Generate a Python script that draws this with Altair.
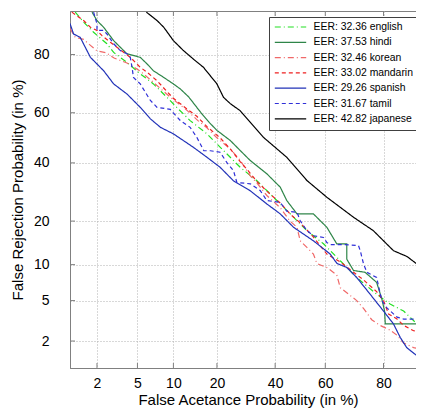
import altair as alt
import pandas as pd
from statistics import NormalDist

# ---- data (percent values) ----
series = ["EER: 32.36 english", "EER: 37.53 hindi", "EER: 32.46 korean",
          "EER: 33.02 mandarin", "EER: 29.26 spanish", "EER: 31.67 tamil",
          "EER: 42.82 japanese"]
colors = ["#22e022", "#2e8548", "#f06868", "#ee2020", "#2233b8", "#3030d8", "#000000"]
dashes = [[6, 3, 1, 3], [1, 0], [6, 3, 1, 3], [4, 3], [1, 0], [4, 3], [1, 0]]

english_far = [1.15, 1.43, 1.84, 2.54, 2.97, 4, 5.3, 6.9, 8.9, 10.6, 13.3, 17.3, 21.9, 27.2, 33.1,
               39.4, 46, 52.7, 59.3, 65.7, 71.6, 78, 81.8, 85.2, 88.1, 89.9]
english_frr = [89.8, 87.9, 85.7, 82.9, 80.6, 77.7, 74.1, 70.7, 65.9, 62.1, 56.9, 51.6, 44.9, 38.3, 33.2,
               27.4, 22.1, 17.4, 14.2, 10.7, 7.9, 5.7, 4.65, 4, 3, 2.6]

hindi_far = [1.77, 2, 2.35, 2.97, 3.45, 4, 5.3, 6.1, 6.9, 8.4, 10, 11.3, 13, 15.8, 18, 20, 24, 27.2,
             30.7, 36.8, 42, 44.6, 48.7, 55.3, 60.6, 64.4, 68.1, 68.1, 70.5, 74.4, 78, 79.5, 80.3,
             80.5, 89.9]
hindi_frr = [89.8, 88.2, 86.8, 83.7, 82, 80.2, 79.2, 77.2, 75.1, 72.9, 70.7, 68.9, 66, 60, 56, 53,
             48.9, 44.9, 40.9, 35.8, 30.9, 26.3, 22.1, 22.1, 18.3, 14.2, 14.2, 11, 9, 8.7, 7.2, 5.2, 4,
             3.0, 3.0]

korean_far = [1, 1.15, 1.43, 1.7, 2, 2.5, 3, 4, 5.3, 7, 8.9, 10, 12.6, 15, 17.3, 20, 24, 27.2, 30.7,
              33, 36.8, 42, 45.9, 48.7, 50, 52.7, 55.3, 56.7, 60.6, 64.4, 65.7, 71.6, 74, 76.5, 79,
              81.8, 83.6, 85.2, 87.4, 89.9]
korean_frr = [86.5, 84.5, 84, 82.5, 81, 80.5, 79, 77.5, 75, 71, 67, 65, 61, 57, 54, 50, 45.5, 41, 35,
              32.5, 28, 24, 20, 18.3, 14.9, 13.4, 12, 10.2, 9.5, 8.3, 6.5, 5, 4.2, 3.3, 2.9, 2.6,
              2.3, 1.9, 1.7, 1.6]

mandarin_far = [1.05, 1.43, 1.7, 2, 2.26, 2.75, 3.2, 4.3, 5.3, 6.1, 7.4, 8.9, 10, 12.6, 14.8, 17.3,
                20.9, 24, 27.2, 30.7, 33, 36.8, 42, 46, 50, 55, 60.6, 65.7, 70.5, 74, 78, 80, 81.4,
                83.6, 85.2, 87.4, 89.9]
mandarin_frr = [89.8, 88.2, 86.8, 86.1, 84.9, 83.3, 82, 79.2, 76.2, 74.6, 71.8, 68, 65.5, 61.5, 58.6,
                54.5, 50, 45.5, 40.5, 36, 33, 29.5, 25.5, 22, 19.5, 16, 12, 10.5, 8.7, 7.5, 6, 5,
                3.75, 3.35, 2.9, 2.56, 2.46]

spanish_far = [1, 1.1, 1.31, 1.7, 2.35, 2.97, 4, 5.3, 6.5, 7.9, 10, 14, 17.3, 20.9, 25, 30.7, 36.8,
               42, 47.3, 55.3, 61.9, 64.5, 68.1, 71.6, 76, 80, 82.7, 84.4, 85.9, 88.1, 89.9]
spanish_frr = [87.6, 85.3, 84.5, 79.2, 75.1, 70.7, 67.1, 62.1, 57.6, 54.2, 51.6, 46.2, 42.2, 38.3,
               33.2, 29.6, 25.2, 22.1, 18.3, 14.9, 12, 10.2, 9.5, 7.9, 5.7, 4, 3, 2.18, 1.7, 1.38, 1.2]

tamil_far = [1.84, 2, 2, 2.35, 2.54, 2.97, 3.45, 4, 4.3, 4.46, 4.6, 5.3, 6.5, 7.4, 9.45, 11.3, 13.3,
             14.8, 16.5, 18.2, 20.9, 23, 25, 26.1, 30.7, 34.3, 36.8, 42, 44.6, 48.7, 50, 52.7, 55.3,
             59.3, 60.6, 62, 67.5, 72.2, 72.8, 73.9, 75, 78, 79.5, 80.9, 83.6, 85.2, 89.9]
tamil_frr = [89.8, 87.5, 86.1, 86.1, 85.3, 82.9, 81.1, 80.2, 79.2, 76.2, 72.9, 70.7, 64.7, 62.1, 61.3,
             56.9, 54.2, 50.2, 44.8, 44.8, 44.2, 40, 37, 32.6, 32.1, 29.7, 26.3, 25.7, 22.9, 22.6,
             20.1, 17.4, 16.1, 15.7, 14.5, 14, 14, 13.8, 12.7, 10.1, 8.7, 7.9, 5, 4.3, 3.5, 3.35, 3.35]

japanese_far = [6, 7.4, 8.4, 10, 11.9, 14, 16.4, 20, 21.9, 24, 27.2, 35.5, 44.6, 52.7, 60.6, 70.5,
                77, 82.7, 86, 88.1, 89.9]
japanese_frr = [89.8, 88.2, 86.8, 83.7, 81.1, 78.7, 76.2, 70.7, 65.9, 63.5, 60.8, 50.2, 42.2, 33.3,
                27.4, 21.1, 17.4, 12.7, 11.5, 10.1, 8.7]

tick_labels = [2, 5, 10, 20, 40, 60, 80]
x_range = [1, 87.9]
y_range = [1, 90]

# ---- build table on a normal-deviate (probit) scale ----
nd = NormalDist()
probit = lambda p: nd.inv_cdf(p / 100.0)
curves = [(english_far, english_frr), (hindi_far, hindi_frr), (korean_far, korean_frr),
          (mandarin_far, mandarin_frr), (spanish_far, spanish_frr), (tamil_far, tamil_frr),
          (japanese_far, japanese_frr)]
rows = []
for name, (fa, fr) in zip(series, curves):
    for i, (a, b) in enumerate(zip(fa, fr)):
        rows.append({"series": name, "i": i, "x": probit(a), "y": probit(b)})
df = pd.DataFrame(rows)

tickpos = [probit(t) for t in tick_labels]
ticks_df = pd.DataFrame({"x": tickpos, "y": tickpos})

W, H = 346, 357
FONT = "Liberation Sans"
label_expr = "format(cumulativeNormal(datum.value) * 100, '.0f')"

xscale = alt.Scale(domain=[probit(x_range[0]), probit(x_range[1])], nice=False, zero=False)
yscale = alt.Scale(domain=[probit(y_range[0]), probit(y_range[1])], nice=False, zero=False)

x_enc = alt.X("x:Q", scale=xscale, axis=alt.Axis(
    values=tickpos, labelExpr=label_expr, title="False Acetance Probability (in %)",
    ticks=False, labelPadding=8, titleX=178, titleY=31, titleBaseline="middle",
    titleAlign="center"))
y_enc = alt.Y("y:Q", scale=yscale, axis=alt.Axis(
    values=tickpos, labelExpr=label_expr, title="False Rejection Probability (in %)",
    ticks=False, labelPadding=21, titleX=-53, titleY=H / 2, titleBaseline="middle",
    titleAlign="center"))

legend = alt.Legend(title=None, orient="none", legendX=199, legendY=6, symbolType="stroke",
                    symbolSize=986, symbolStrokeWidth=1.2, clipHeight=10, rowPadding=4.3,
                    padding=5, labelOffset=6.6, labelFontSize=10.4, labelFont=FONT,
                    fillColor="white", strokeColor="#404040", labelColor="black")

lines = alt.Chart(df).mark_line(strokeWidth=1.2, clip=True).encode(
    x=x_enc, y=y_enc,
    color=alt.Color("series:N", scale=alt.Scale(domain=series, range=colors), legend=legend),
    strokeDash=alt.StrokeDash("series:N", scale=alt.Scale(domain=series, range=dashes),
                              legend=legend),
    order="i:Q",
)

tick_color = "#808080"
bottom_ticks = alt.Chart(ticks_df).mark_rule(color=tick_color).encode(
    x=alt.X("x:Q", scale=xscale), y=alt.value(H), y2=alt.value(H - 5))
top_ticks = alt.Chart(ticks_df).mark_rule(color=tick_color).encode(
    x=alt.X("x:Q", scale=xscale), y=alt.value(0), y2=alt.value(5))
left_ticks = alt.Chart(ticks_df).mark_rule(color=tick_color).encode(
    y=alt.Y("y:Q", scale=yscale), x=alt.value(0), x2=alt.value(5))

chart = alt.layer(lines, bottom_ticks, top_ticks, left_ticks).properties(
    width=W, height=H,
    autosize=alt.AutoSizeParams(type="none"),
    padding={"left": 62, "top": 3, "right": 0, "bottom": 41},
).configure_view(stroke=tick_color, strokeWidth=1).configure_axis(
    domainColor=tick_color, gridColor="#b0b0b0", gridDash=[1, 2], gridWidth=1,
    labelFont=FONT, labelFontSize=14, labelColor="black",
    titleFont=FONT, titleFontSize=15, titleFontWeight="normal", titleColor="black",
)

chart.save("out.html", embed_options={"renderer": "svg", "actions": False})
